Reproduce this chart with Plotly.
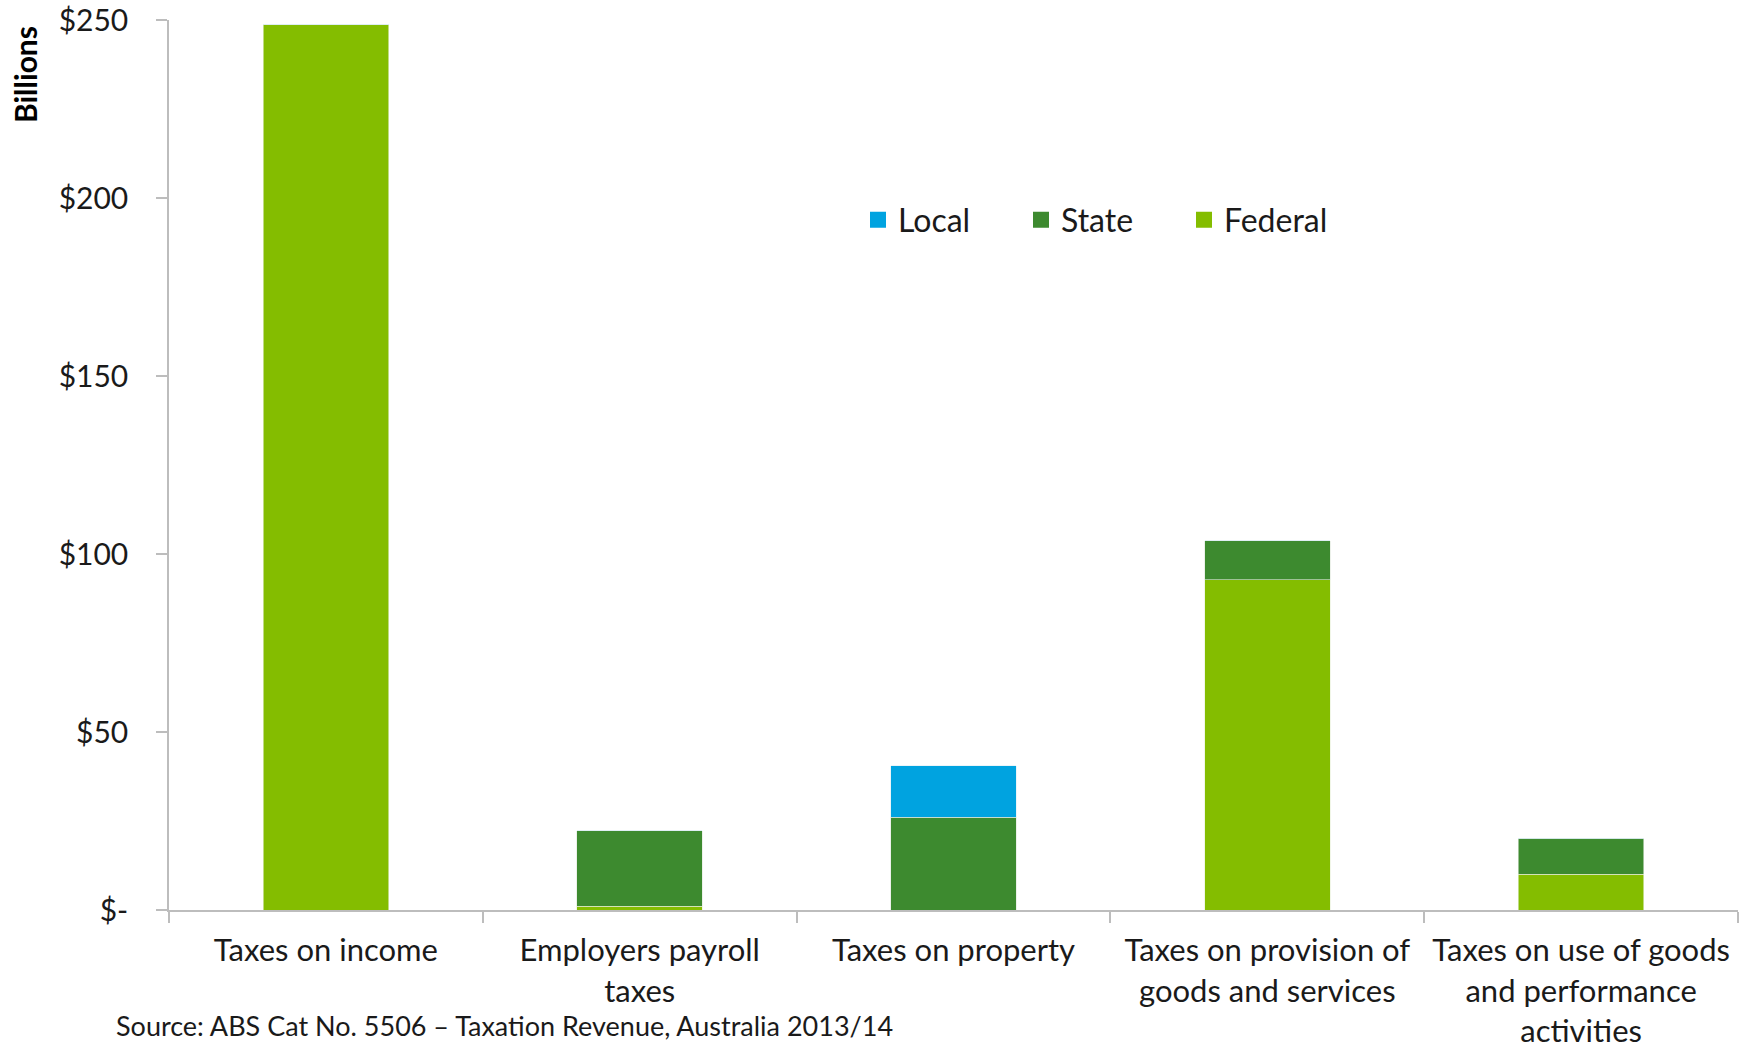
import plotly.graph_objects as go

categories = [
    "Taxes on income",
    "Employers payroll<br>taxes",
    "Taxes on property",
    "Taxes on provision of<br>goods and services",
    "Taxes on use of goods<br>and performance<br>activities",
]
federal = [248.6, 1.0, 0.0, 92.7, 10.0]
state = [0.0, 21.3, 26.0, 11.0, 10.1]
local = [0.0, 0.0, 14.5, 0.0, 0.0]

y_ticks = [0, 50, 100, 150, 200, 250]
y_tick_labels = ["$-", "$50", "$100", "$150", "$200", "$250"]

series = [("Federal", federal, "#84BD00", "#E8F0D8"),
          ("State", state, "#3D8A2F", "#E0E8DC"),
          ("Local", local, "#00A3E0", "#DDEEF5")]

FONT = "Lato"
W, H = 1750, 1044
L, R, T, B = 169, 12, 20, 134
pw = W - L - R
ph = H - T - B

fig = go.Figure()
for name, vals, col, edge in series:
    fig.add_trace(go.Bar(name=name, x=categories, y=vals, showlegend=False,
                         marker=dict(color=col, line=dict(color=edge, width=0.6))))
# legend entries with larger square swatches
for name, vals, col, edge in series:
    fig.add_trace(go.Scatter(name=name, x=[None], y=[None], mode="markers",
                             marker=dict(symbol="square", size=19, color=col),
                             showlegend=True, hoverinfo="skip"))

fig.update_layout(
    barmode="stack",
    bargap=0.6,
    width=W, height=H,
    margin=dict(l=L, r=R, t=T, b=B, autoexpand=False),
    plot_bgcolor="white", paper_bgcolor="white",
    font=dict(family=FONT, size=31, color="#1a1a1a"),
    showlegend=True,
    legend=dict(orientation="h", traceorder="reversed",
                x=(858 - L) / pw, xanchor="left", y=(910 - 220) / ph, yanchor="middle",
                font=dict(size=32, color="#1a1a1a"),
                itemsizing="trace",
                entrywidth=118, entrywidthmode="pixels",
                bgcolor="rgba(0,0,0,0)", itemclick=False),
    annotations=[
        dict(text="<b>Billions</b>", textangle=-90,
             x=(25 - L) / pw, y=(910 - 75) / ph,
             xanchor="center", yanchor="middle",
             xref="paper", yref="paper", showarrow=False,
             font=dict(size=30, color="#000000")),
        dict(text="Source: ABS Cat No. 5506 \u2013 Taxation Revenue, Australia 2013/14",
             x=(114 - L) / pw, y=(910 - 1044) / ph,
             xanchor="left", yanchor="bottom",
             xref="paper", yref="paper", showarrow=False,
             font=dict(size=27, color="#1a1a1a")),
    ],
)

fig.update_xaxes(showline=True, linecolor="#BDBDBD", linewidth=2,
                 ticks="outside", tickson="boundaries", ticklen=11,
                 tickcolor="#BDBDBD", tickwidth=1.5, tickangle=0,
                 showgrid=False, zeroline=False, automargin=False,
                 ticklabelstandoff=12, ticklabeloverflow="allow",
                 tickfont=dict(size=31, color="#1a1a1a"))
fig.update_yaxes(range=[0, 250], tickvals=y_ticks, ticktext=y_tick_labels,
                 showline=True, linecolor="#BDBDBD", linewidth=1.5,
                 ticks="outside", ticklen=11, tickcolor="#BDBDBD", tickwidth=1.5,
                 showgrid=False, zeroline=False, automargin=False,
                 ticklabelstandoff=22, ticklabeloverflow="allow",
                 tickfont=dict(size=30, color="#1a1a1a"))

fig.write_html("out.html", config={"displayModeBar": False},
               post_script="document.body.style.margin='0';document.body.style.padding='0';")
